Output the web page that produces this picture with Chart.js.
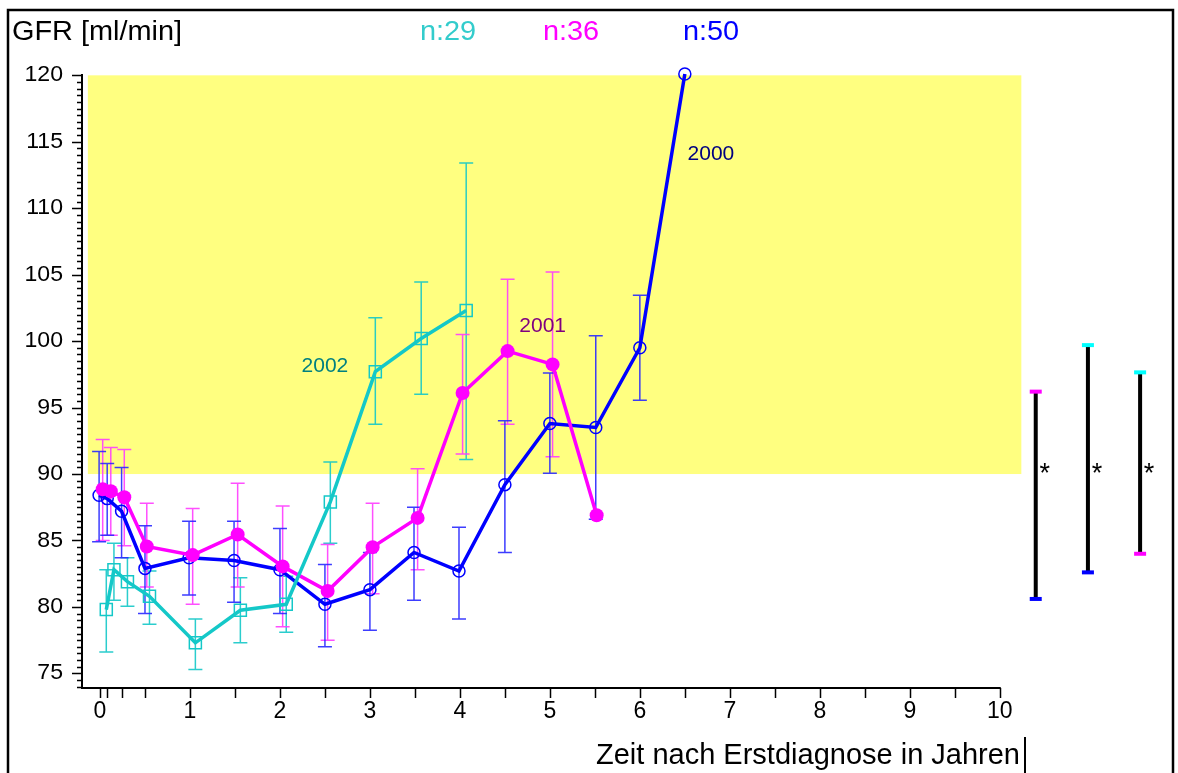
<!DOCTYPE html>
<html>
<head>
<meta charset="utf-8">
<script src="https://cdn.jsdelivr.net/npm/chart.js@4.4.1/dist/chart.umd.min.js"></script>
<style>
  html, body { margin: 0; padding: 0; background: #fff; }
  #wrap { width: 1178px; height: 773px; }
</style>
</head>
<body>
<div id="wrap"><canvas id="gfr" width="1178" height="773"></canvas></div>
<script>
// Jahrgang 2002 (n:29) - Zeit nach Erstdiagnose, GFR-Mittelwert, obere/untere Fehlergrenze
const x2002 = [0.07, 0.155, 0.305, 0.55, 1.06, 1.56, 2.07, 2.56, 3.06, 3.57, 4.07];
const gfr2002 = [79.8, 82.8, 81.9, 80.8, 77.3, 79.75, 80.2, 87.9, 97.7, 100.2, 102.3];
const hi2002 = [82.8, 84.8, 83.7, 82.7, 79.1, 82.2, 82.3, 90.9, 101.75, 104.45, 113.4];
const lo2002 = [76.6, 80.5, 80.05, 78.7, 75.3, 77.3, 78.1, 84.8, 93.75, 96.0, 91.1];

// Jahrgang 2001 (n:36)
const x2001 = [0.03, 0.12, 0.27, 0.52, 1.03, 1.53, 2.03, 2.53, 3.03, 3.53, 4.03, 4.53, 5.03, 5.52];
const gfr2001 = [88.85, 88.7, 88.25, 84.55, 83.9, 85.45, 83.05, 81.2, 84.5, 86.7, 96.1, 99.25, 98.25, 86.9];
const hi2001 = [92.6, 92.0, 91.85, 87.8, 87.4, 89.3, 87.6, 84.7, 87.8, 90.4, 100.5, 104.65, 105.2, null];
const lo2001 = [85.0, 85.4, 84.6, 81.5, 80.2, 81.5, 78.5, 77.5, 81.0, 82.8, 91.5, 93.75, 91.3, null];

// Jahrgang 2000 (n:50)
const x2000 = [-0.01, 0.08, 0.24, 0.5, 0.99, 1.49, 2.0, 2.5, 3.0, 3.49, 3.99, 4.5, 5.0, 5.51, 6.0, 6.5];
const gfr2000 = [88.4, 88.15, 87.2, 82.9, 83.7, 83.5, 82.8, 80.2, 81.3, 84.1, 82.7, 89.2, 93.8, 93.5, 99.5, 120.1];
const hi2000 = [91.7, 90.8, 90.5, 86.1, 86.45, 86.45, 85.9, 83.2, 84.1, 87.5, 86.0, 94.0, 97.6, 100.4, 103.45, null];
const lo2000 = [84.9, 85.4, 83.7, 79.5, 80.9, 80.35, 79.5, 77.0, 78.25, 80.5, 79.1, 84.1, 90.05, 86.6, 95.55, null];

// Signifikanz-Klammern rechts neben der Grafik
const bracketX = [10.4, 10.98, 11.56];
const bracketTop = [96.2, 99.7, 97.65];
const bracketBottom = [80.6, 82.6, 84.0];
const bracketTopColor = ['#FF00FF', '#00FFFF', '#00FFFF'];
const bracketBottomColor = ['#0000FF', '#0000FF', '#FF00FF'];

// Achsen
const xTicks = [0, 0.083, 0.25, 0.5, 1, 1.5, 2, 2.5, 3, 3.5, 4, 4.5, 5, 5.5, 6, 6.5, 7, 7.5, 8, 8.5, 9, 9.5, 10];
const xTickLabels = [0, 1, 2, 3, 4, 5, 6, 7, 8, 9, 10];
const yTickLabels = [75, 80, 85, 90, 95, 100, 105, 110, 115, 120];
const groupLabels = ['n:29', 'n:36', 'n:50'];
const normalRange = [90, 120];

const FONT = '"Liberation Sans", Arial, sans-serif';
const CYAN = '#14C8C8';
const MAGENTA = '#FF00FF';
const BLUE = '#0000FF';

function pts(xs, ys) {
  return xs.map((v, i) => ({ x: v, y: ys[i] }));
}

function text(ctx, str, x, y, size, color, align, sx, baseline) {
  ctx.save();
  ctx.font = size + 'px ' + FONT;
  ctx.fillStyle = color;
  ctx.textBaseline = baseline || 'middle';
  ctx.textAlign = 'left';
  const w = ctx.measureText(str).width * sx;
  const left = align === 'right' ? x - w : align === 'center' ? x - w / 2 : x;
  ctx.translate(left, y);
  ctx.scale(sx, 1);
  ctx.fillText(str, 0, 0);
  ctx.restore();
}

const background = {
  id: 'background',
  beforeDraw(chart) {
    const { ctx, scales: { x, y } } = chart;
    ctx.save();
    ctx.fillStyle = '#fff';
    ctx.fillRect(0, 0, chart.width, chart.height);
    // Normbereich
    ctx.fillStyle = '#FFFF80';
    const l = x.getPixelForValue(-0.135), r = x.getPixelForValue(10.24);
    const t = y.getPixelForValue(normalRange[1]), b = y.getPixelForValue(normalRange[0]);
    ctx.fillRect(l, t, r - l, b - t);
    // Rahmen
    ctx.strokeStyle = '#000';
    ctx.lineWidth = 2.5;
    ctx.beginPath();
    ctx.moveTo(8, 780); ctx.lineTo(8, 10); ctx.lineTo(1173, 10); ctx.lineTo(1173, 780);
    ctx.stroke();
    ctx.restore();
  }
};

const errorBars = {
  id: 'errorBars',
  beforeDatasetsDraw(chart) {
    const { ctx, scales: { x, y } } = chart;
    chart.data.datasets.forEach(ds => {
      if (!ds.hi) return;
      ctx.save();
      ctx.strokeStyle = ds.errColor;
      ctx.lineWidth = 1.5;
      ds.data.forEach((p, i) => {
        if (ds.hi[i] == null) return;
        const px = x.getPixelForValue(p.x);
        const top = y.getPixelForValue(ds.hi[i]);
        const bot = y.getPixelForValue(ds.lo[i]);
        ctx.beginPath();
        ctx.moveTo(px, top); ctx.lineTo(px, bot);
        ctx.moveTo(px - 7, top); ctx.lineTo(px + 7, top);
        ctx.moveTo(px - 7, bot); ctx.lineTo(px + 7, bot);
        ctx.stroke();
      });
      ctx.restore();
    });
  }
};

const axesAndText = {
  id: 'axesAndText',
  afterDraw(chart) {
    const { ctx, chartArea: a, scales: { x, y } } = chart;
    const xEnd = x.getPixelForValue(10);
    ctx.save();
    ctx.strokeStyle = '#000';
    ctx.lineWidth = 2;
    ctx.beginPath();
    ctx.moveTo(a.left, a.top); ctx.lineTo(a.left, a.bottom); ctx.lineTo(xEnd + 1, a.bottom);
    ctx.stroke();

    ctx.lineWidth = 1.5;
    ctx.beginPath();
    for (let v = 74; v <= 120.001; v += 0.5) {
      const py = Math.round(y.getPixelForValue(v)) + 0.5;
      const len = v % 5 === 0 ? 10 : 5;
      ctx.moveTo(a.left - len, py); ctx.lineTo(a.left, py);
    }
    xTicks.forEach(v => {
      const px = Math.round(x.getPixelForValue(v)) + 0.5;
      ctx.moveTo(px, a.bottom); ctx.lineTo(px, a.bottom + 10);
    });
    ctx.stroke();
    ctx.restore();

    yTickLabels.forEach(v => text(ctx, String(v), a.left - 19, y.getPixelForValue(v), 22, '#000', 'right', 1.05));
    xTickLabels.forEach(v => text(ctx, String(v), x.getPixelForValue(v), a.bottom + 24, 23, '#000', 'center', 1));

    // Titel und Fallzahlen
    text(ctx, 'GFR [ml/min]', 12, 33, 27, '#000', 'left', 1.07);
    text(ctx, groupLabels[0], 448, 33, 27, '#33CCCC', 'center', 1.07);
    text(ctx, groupLabels[1], 571, 33, 27, MAGENTA, 'center', 1.07);
    text(ctx, groupLabels[2], 711, 33, 27, BLUE, 'center', 1.07);

    text(ctx, 'Zeit nach Erstdiagnose in Jahren', 1020, 756, 29, '#000', 'right', 1);
    ctx.save();
    ctx.strokeStyle = '#000';
    ctx.lineWidth = 2;
    ctx.beginPath();
    ctx.moveTo(1025, 737); ctx.lineTo(1025, 780);
    ctx.stroke();
    ctx.restore();

    // Jahrgangs-Beschriftungen
    text(ctx, '2002', x.getPixelForValue(2.5), y.getPixelForValue(98.1), 21, '#008080', 'center', 1);
    text(ctx, '2001', x.getPixelForValue(4.92), y.getPixelForValue(101.1), 21, '#800080', 'center', 1);
    text(ctx, '2000', x.getPixelForValue(6.79), y.getPixelForValue(114.05), 21, '#000080', 'center', 1);

    // Sternchen an den Klammern
    bracketX.forEach(bx => {
      text(ctx, '*', x.getPixelForValue(bx) + 9, y.getPixelForValue(90.5) + 15, 27, '#000', 'center', 1, 'alphabetic');
    });
  }
};

const brackets = bracketX.map((bx, i) => ({
  label: 'bracket' + i,
  data: [{ x: bx, y: bracketTop[i] }, { x: bx, y: bracketBottom[i] }],
  borderColor: '#000',
  borderWidth: 4,
  pointStyle: 'line',
  pointRadius: 6,
  pointBorderWidth: 4,
  pointBorderColor: [bracketTopColor[i], bracketBottomColor[i]],
  clip: false
}));

new Chart(document.getElementById('gfr'), {
  type: 'line',
  data: {
    datasets: [
      {
        label: '2002', data: pts(x2002, gfr2002), hi: hi2002, lo: lo2002,
        errColor: 'rgba(20,200,200,0.9)',
        borderColor: CYAN, borderWidth: 3.5,
        pointStyle: 'rect', pointRadius: 8.5, pointBorderWidth: 1.5,
        pointBorderColor: CYAN, pointBackgroundColor: 'rgba(0,0,0,0)', clip: false
      },
      {
        label: '2001', data: pts(x2001, gfr2001), hi: hi2001, lo: lo2001,
        errColor: 'rgba(255,60,255,0.9)',
        borderColor: MAGENTA, borderWidth: 3.5,
        pointStyle: 'circle', pointRadius: 7, pointBorderWidth: 0,
        pointBackgroundColor: MAGENTA, clip: false
      },
      {
        label: '2000', data: pts(x2000, gfr2000), hi: hi2000, lo: lo2000,
        errColor: 'rgba(40,40,255,0.9)',
        borderColor: BLUE, borderWidth: 3.5,
        pointStyle: 'circle', pointRadius: 6, pointBorderWidth: 1.5,
        pointBorderColor: BLUE, pointBackgroundColor: 'rgba(0,0,0,0)', clip: false
      },
      ...brackets
    ]
  },
  options: {
    responsive: false,
    animation: false,
    events: [],
    layout: { padding: { left: 82, top: 74, right: 7, bottom: 85 } },
    plugins: { legend: { display: false }, tooltip: { enabled: false } },
    elements: { line: { tension: 0 } },
    scales: {
      x: { type: 'linear', min: -0.2, max: 11.87, display: false },
      y: { type: 'linear', min: 73.9, max: 120.1, display: false }
    }
  },
  plugins: [background, errorBars, axesAndText]
});
</script>
</body>
</html>
